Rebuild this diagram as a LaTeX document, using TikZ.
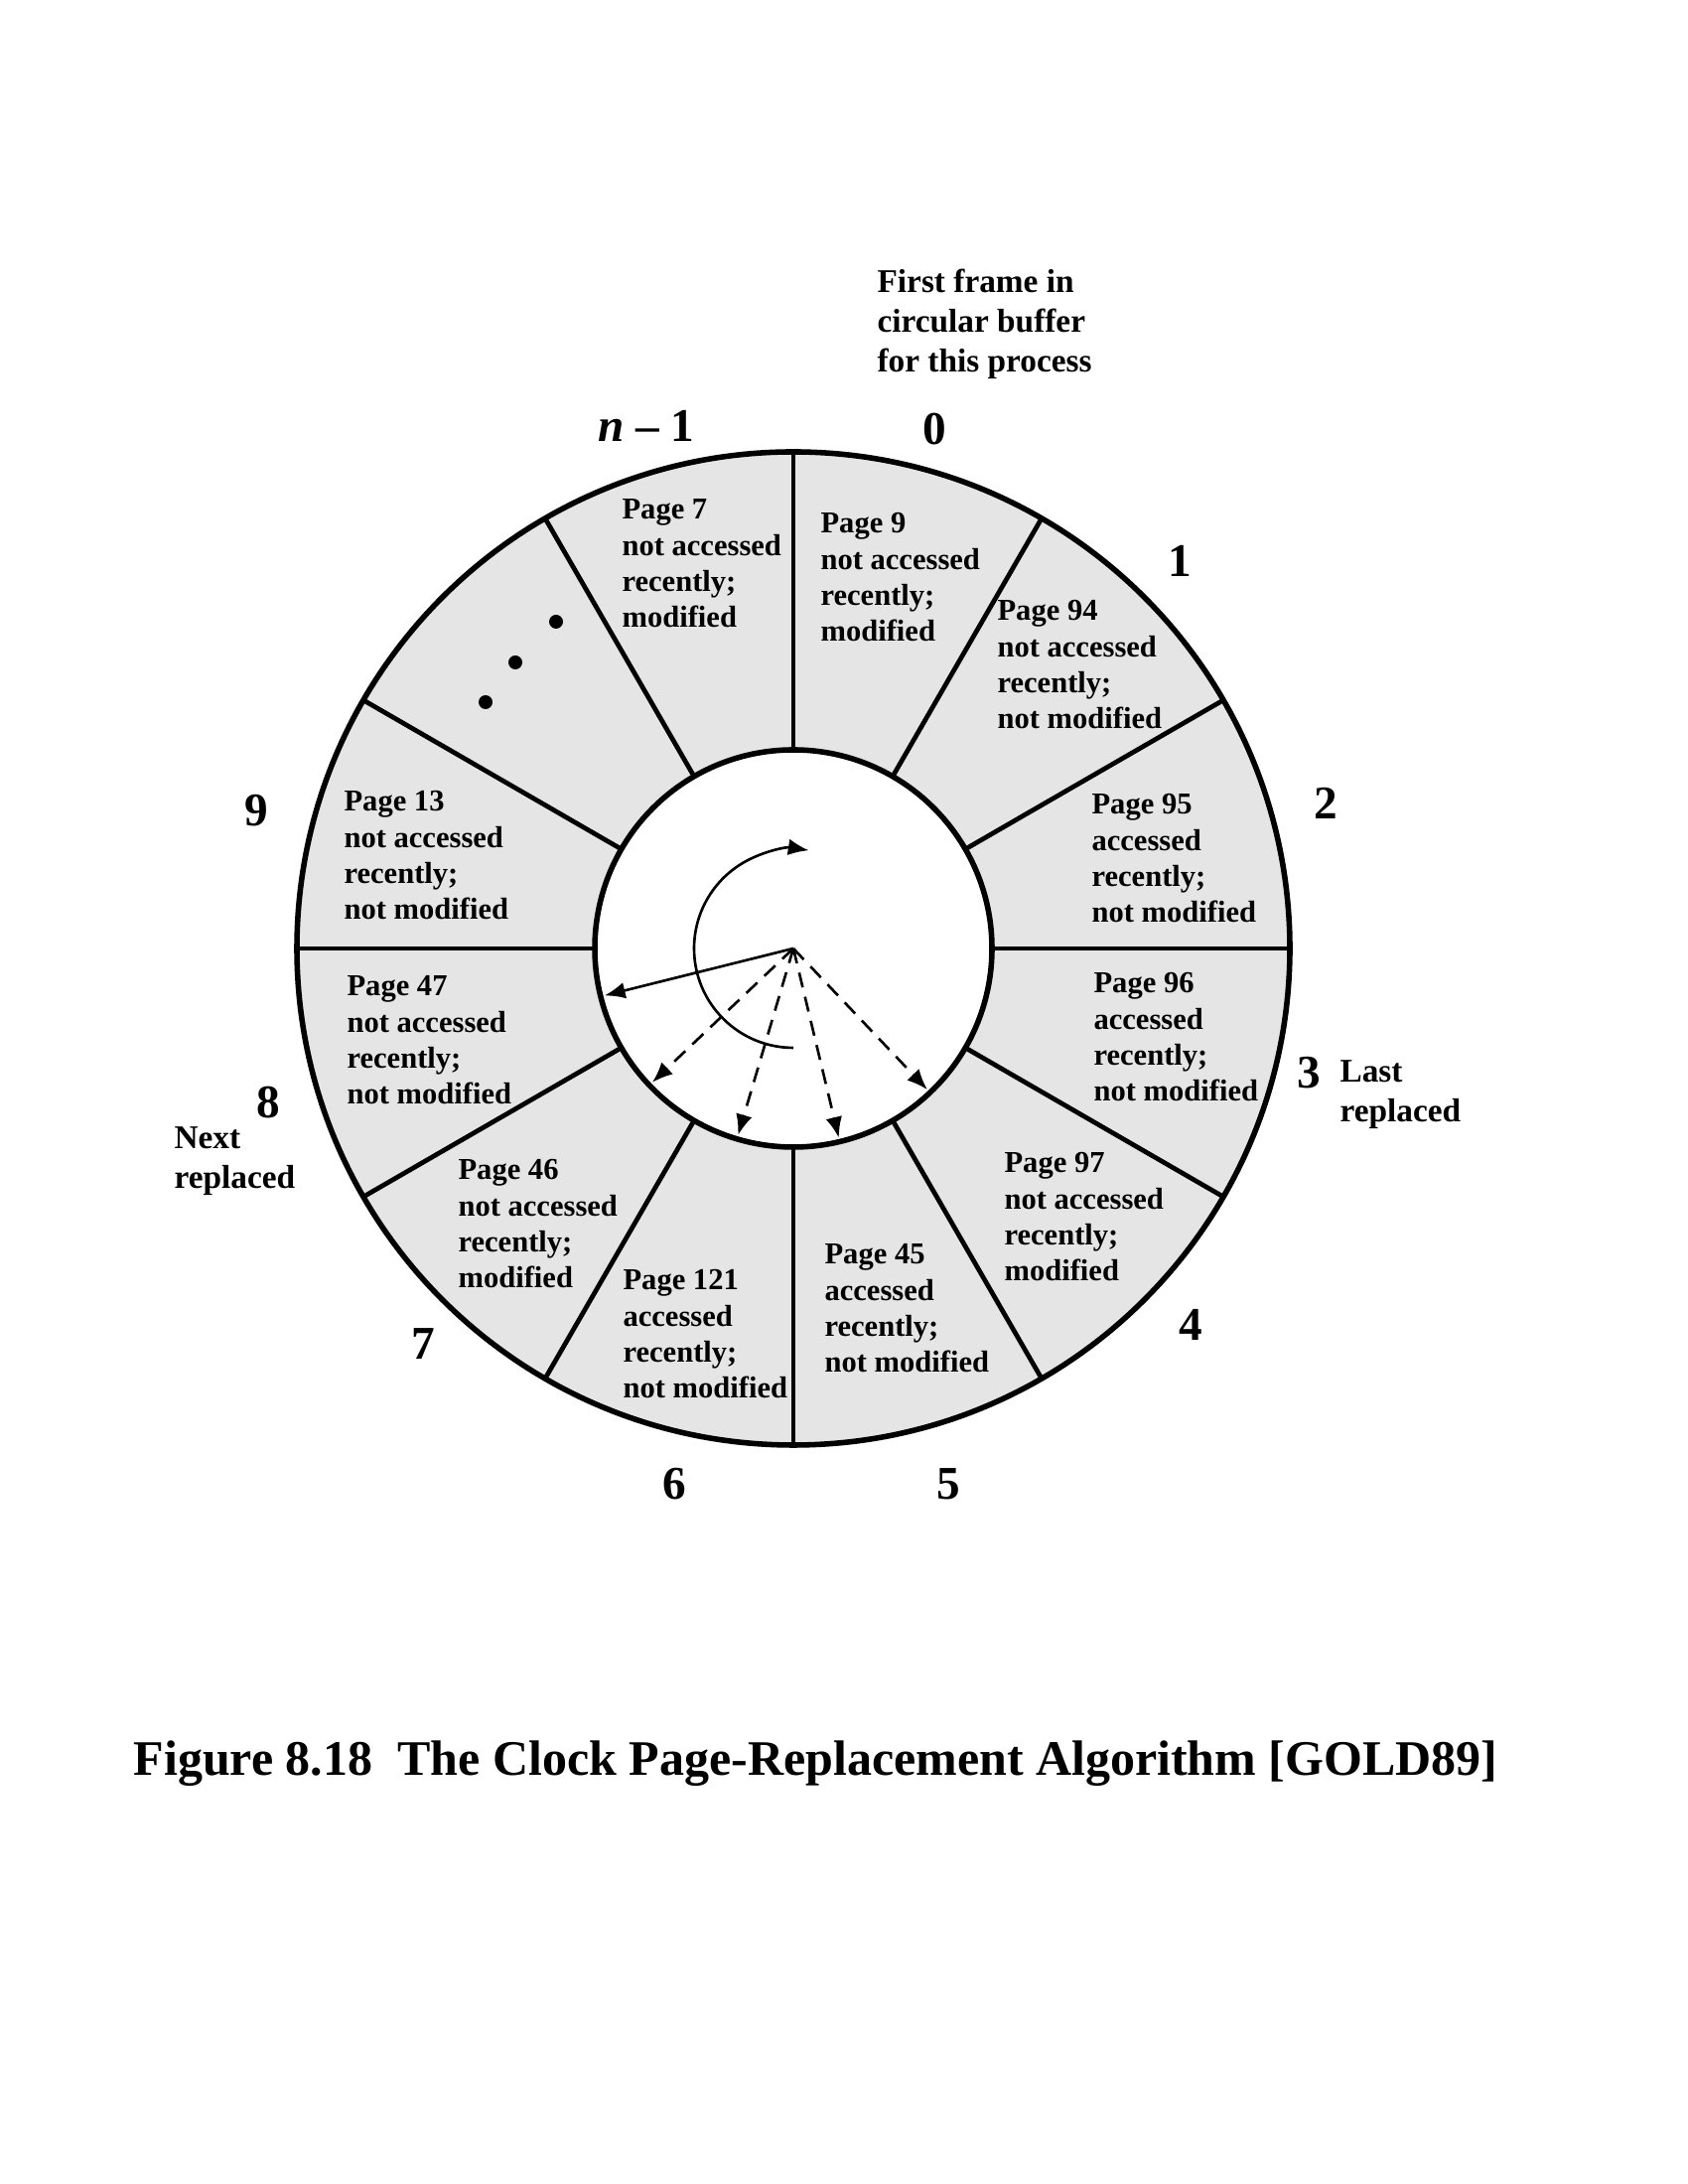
\documentclass[tikz,border=0pt]{standalone}
\usepackage{fontspec}
\setmainfont{Liberation Serif}
\usetikzlibrary{arrows.meta}
\newcommand\mylines[4]{\begin{tabular}[t]{@{}l@{}}#1\\#2\\#3\\#4\end{tabular}}
\newcommand\mytwo[2]{\begin{tabular}[t]{@{}l@{}}#1\\#2\end{tabular}}
\newcommand\mythree[3]{\begin{tabular}[t]{@{}l@{}}#1\\#2\\#3\end{tabular}}
\begin{document}
\begin{tikzpicture}[x=0.36pt,y=0.36pt,
  ptxt/.style={anchor=base west, inner sep=0pt, font=\fontsize{11}{13}\selectfont\bfseries},
  num/.style={inner sep=0pt, font=\fontsize{17}{20}\selectfont\bfseries},
  lbl/.style={anchor=base west, inner sep=0pt, font=\fontsize{12}{14.4}\selectfont\bfseries},
  ptr/.style={line width=0.95pt, -{Latex[length=7.5pt,width=6pt]}},
  dptr/.style={ptr, dash pattern=on 5.5pt off 3.5pt},
  spoke/.style={line width=1.7pt},
  ring/.style={line width=2pt}]
\useasboundingbox (0,0) rectangle (1700,2199);
\coordinate (C) at (799,1244);
% ring of frames
\fill[black!10] (C) circle[radius=500];
\foreach \a in {0,30,...,330}
  \draw[spoke] ([shift={(\a:200)}]C) -- ([shift={(\a:500)}]C);
\draw[ring] (C) circle[radius=500];
\draw[ring, fill=white] (C) circle[radius=200];
% dots
\fill (560,1573) circle[radius=7];
\fill (519,1532) circle[radius=7];
\fill (489,1492) circle[radius=7];
% frame texts
\node[ptxt] (pg7)   at (626,1676) {\mylines{Page 7}{not accessed}{recently;}{modified}};
\node[ptxt] (pg9)   at (826,1662) {\mylines{Page 9}{not accessed}{recently;}{modified}};
\node[ptxt] (pg94)  at (1004,1574) {\mylines{Page 94}{not accessed}{recently;}{not modified}};
\node[ptxt] (pg95)  at (1099,1379) {\mylines{Page 95}{accessed}{recently;}{not modified}};
\node[ptxt] (pg96)  at (1101,1199) {\mylines{Page 96}{accessed}{recently;}{not modified}};
\node[ptxt] (pg97)  at (1011,1018) {\mylines{Page 97}{not accessed}{recently;}{modified}};
\node[ptxt] (pg45)  at (830,926)  {\mylines{Page 45}{accessed}{recently;}{not modified}};
\node[ptxt] (pg121) at (627,900)  {\mylines{Page 121}{accessed}{recently;}{not modified}};
\node[ptxt] (pg46)  at (461,1011) {\mylines{Page 46}{not accessed}{recently;}{modified}};
\node[ptxt] (pg47)  at (349,1196) {\mylines{Page 47}{not accessed}{recently;}{not modified}};
\node[ptxt] (pg13)  at (346,1382) {\mylines{Page 13}{not accessed}{recently;}{not modified}};
% frame numbers
\node[num] (n0) at (941,1767) {0};
\node[num, anchor=base] (nm1) at (651,1754) {\textit{n} \textendash\ 1};
\node[num] (n1) at (1188,1634) {1};
\node[num] (n2) at (1335,1390) {2};
\node[num] (n3) at (1318,1119) {3};
\node[num] (n4) at (1199,865) {4};
\node[num] (n5) at (955,705) {5};
\node[num] (n6) at (679,705) {6};
\node[num] (n7) at (426,846) {7};
\node[num] (n8) at (270,1089) {8};
\node[num] (n9) at (258,1383) {9};
% side labels
\node[lbl] (first) at (883,1904) {\mythree{First frame in}{circular buffer}{for this process}};
\node[lbl] (last) at (1349,1109) {\mytwo{Last}{replaced}};
\node[lbl] (next) at (175,1042) {\mytwo{Next}{replaced}};
% pointers
\coordinate (p8) at ([shift={(194:196)}]C);
\draw[ptr] (C) -- (p8);
\foreach \a/\n in {223.5/7,253.5/6,283.5/5,313.5/4} {
  \coordinate (p\n) at ([shift={(\a:196)}]C);
  \draw[dptr] (C) -- (p\n);
}
\coordinate (arcstart) at ([shift={(270:100)}]C);
\draw[ptr] (arcstart) arc[start angle=270, end angle=81, radius=100];
% caption
\node[anchor=base west, inner sep=0pt, font=\fontsize{18}{22}\selectfont\bfseries] (cap) at (134,411)
  {Figure 8.18\ \ The Clock Page-Replacement Algorithm [GOLD89]};
\end{tikzpicture}
\end{document}
